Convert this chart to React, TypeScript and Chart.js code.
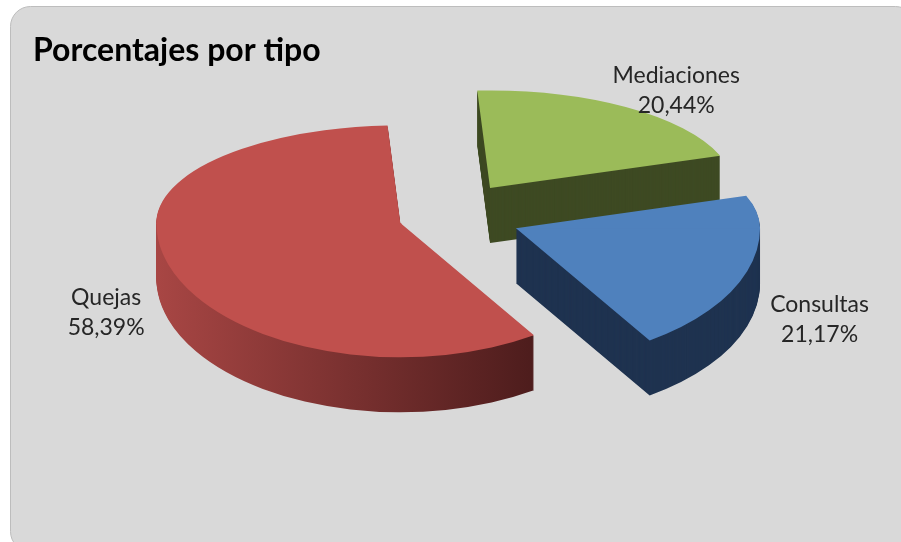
import React, { useEffect, useRef } from 'react';
import { Chart, registerables } from 'chart.js';

Chart.register(...registerables);

// ---- data ----
const categories = ['Mediaciones', 'Consultas', 'Quejas'];
const percentages = [20.44, 21.17, 58.39];
const chartTitle = 'Porcentajes por tipo';

// ---- styles ----
const TOP_COLORS = ['#9bbb59', '#4f81bd', '#c0504d'];
const WALL_COLORS = ['#3e4a23', '#1f3350', ''];
const RED_WALL_STOPS = ['#a84644', '#4a1b1b'];
const EXPLODE = [81, 75, 47];
const TILT_BACK = 0.4;
const TILT_FRONT = 0.55;
const DEPTH = 55;
const RADIUS = 244;
const LABEL_SIZE = 23;
const LABEL_COLOR = '#262626';
const LABEL_GAP = 27;
const LINE_GAP = 30;

function fmt(v: number) {
  return v.toFixed(2).replace('.', ',') + '%';
}

function tipOf(el: any, i: number) {
  const mid = (el.startAngle + el.endAngle) / 2;
  const ex = Math.cos(mid) * EXPLODE[i];
  const ey = Math.sin(mid) * EXPLODE[i];
  const k = ey < 0 ? TILT_BACK : TILT_FRONT;
  return { mid, ex, ey, tipX: el.x + ex, tipY: el.y + ey * k };
}

const pie3d = {
  id: 'pie3d',
  beforeDraw(chart: any) {
    const ctx = chart.ctx as CanvasRenderingContext2D;
    ctx.save();
    ctx.fillStyle = '#ffffff';
    ctx.fillRect(0, 0, chart.width, chart.height);
    const x = 10.5, y = 6.5, w = 905, h = 545, r = 20;
    ctx.beginPath();
    ctx.moveTo(x + r, y);
    ctx.lineTo(x + w - r, y);
    ctx.arcTo(x + w, y, x + w, y + r, r);
    ctx.lineTo(x + w, y + h - r);
    ctx.arcTo(x + w, y + h, x + w - r, y + h, r);
    ctx.lineTo(x + r, y + h);
    ctx.arcTo(x, y + h, x, y + h - r, r);
    ctx.lineTo(x, y + r);
    ctx.arcTo(x, y, x + r, y, r);
    ctx.closePath();
    ctx.fillStyle = '#d9d9d9';
    ctx.fill();
    ctx.strokeStyle = '#bdbdbd';
    ctx.lineWidth = 1;
    ctx.stroke();
    ctx.restore();
  },
  beforeDatasetsDraw(chart: any) {
    const ctx = chart.ctx as CanvasRenderingContext2D;
    const meta = chart.getDatasetMeta(0);
    const W = chart.width, H = chart.height;
    meta.data.forEach((el: any, i: number) => {
      const { ex, ey, tipY } = tipOf(el, i);
      // draw the slice with a back tilt above its tip line and a front tilt below it
      const drawAt = (target: any, dy: number) => {
        const line = tipY + dy;
        for (let half = 0; half < 2; half++) {
          const k = half === 0 ? TILT_BACK : TILT_FRONT;
          ctx.save();
          ctx.beginPath();
          if (half === 0) ctx.rect(0, 0, W, line + 1);
          else ctx.rect(0, line, W, H - line);
          ctx.clip();
          ctx.translate(0, line);
          ctx.scale(1, k);
          ctx.translate(0, -(el.y + ey));
          ctx.translate(ex, ey);
          target.draw(ctx);
          ctx.restore();
        }
      };
      let wall: any = WALL_COLORS[i];
      if (!wall) {
        const g = ctx.createLinearGradient(el.x - el.outerRadius, 0, el.x + el.outerRadius * 0.6, 0);
        g.addColorStop(0, RED_WALL_STOPS[0]);
        g.addColorStop(1, RED_WALL_STOPS[1]);
        wall = g;
      }
      const wallEl = Object.create(el);
      wallEl.options = Object.assign({}, el.options, { backgroundColor: wall, borderWidth: 0 });
      for (let s = DEPTH; s >= 1; s--) drawAt(wallEl, s);
      drawAt(el, 0);
    });
    return false;
  },
  afterDraw(chart: any) {
    const ctx = chart.ctx as CanvasRenderingContext2D;
    const meta = chart.getDatasetMeta(0);
    const labels = chart.data.labels as string[];
    const values = chart.data.datasets[0].data as number[];
    ctx.save();
    ctx.font = LABEL_SIZE + 'px Lato';
    ctx.fillStyle = LABEL_COLOR;
    ctx.textAlign = 'center';
    ctx.textBaseline = 'alphabetic';
    meta.data.forEach((el: any, i: number) => {
      const { mid, tipX, tipY } = tipOf(el, i);
      const dx = Math.cos(mid), dy = Math.sin(mid);
      const k = dy < 0 ? TILT_BACK : TILT_FRONT;
      const l1 = labels[i];
      const l2 = fmt(values[i]);
      const w = Math.max(ctx.measureText(l1).width, ctx.measureText(l2).width);
      const h = LINE_GAP + LABEL_SIZE * 0.7;
      const edgeX = tipX + dx * el.outerRadius;
      const edgeY = tipY + dy * el.outerRadius * k;
      const lx = edgeX + dx * LABEL_GAP + dx * w / 2;
      const ly = edgeY + dy * LABEL_GAP * k + dy * h / 2 + DEPTH * (0.75 * dx * dx - 0.05);
      ctx.fillText(l1, lx, ly - 6);
      ctx.fillText(l2, lx, ly + 24);
    });
    ctx.restore();
  },
};

export default function App() {
  const ref = useRef<HTMLCanvasElement | null>(null);
  useEffect(() => {
    if (!ref.current) return;
    const chart = new Chart(ref.current, {
      type: 'pie',
      data: {
        labels: categories,
        datasets: [
          {
            data: percentages,
            backgroundColor: TOP_COLORS,
            borderWidth: 0,
          },
        ],
      },
      options: {
        responsive: false,
        animation: false,
        devicePixelRatio: 1,
        rotation: -3,
        radius: RADIUS,
        events: [],
        layout: { padding: { left: 33, right: 44, top: 0, bottom: 181.9 } },
        plugins: {
          legend: { display: false },
          tooltip: { enabled: false },
          title: {
            display: true,
            text: chartTitle,
            align: 'start',
            color: '#000000',
            font: { family: 'Lato', size: 32, weight: 'bold' },
            padding: { top: 31.5, bottom: 0 },
          },
        },
      } as any,
      plugins: [pie3d as any],
    });
    let alive = true;
    if ((document as any).fonts) {
      Promise.all([
        (document as any).fonts.load('bold 32px Lato'),
        (document as any).fonts.load('23px Lato'),
      ]).then(() => {
        if (alive) chart.update();
      }).catch(() => {});
    }
    return () => {
      alive = false;
      chart.destroy();
    };
  }, []);
  return (
    <div style={{ position: 'absolute', left: 0, top: 0, width: 901, height: 542 }}>
      <canvas ref={ref} width={901} height={542} />
    </div>
  );
}
